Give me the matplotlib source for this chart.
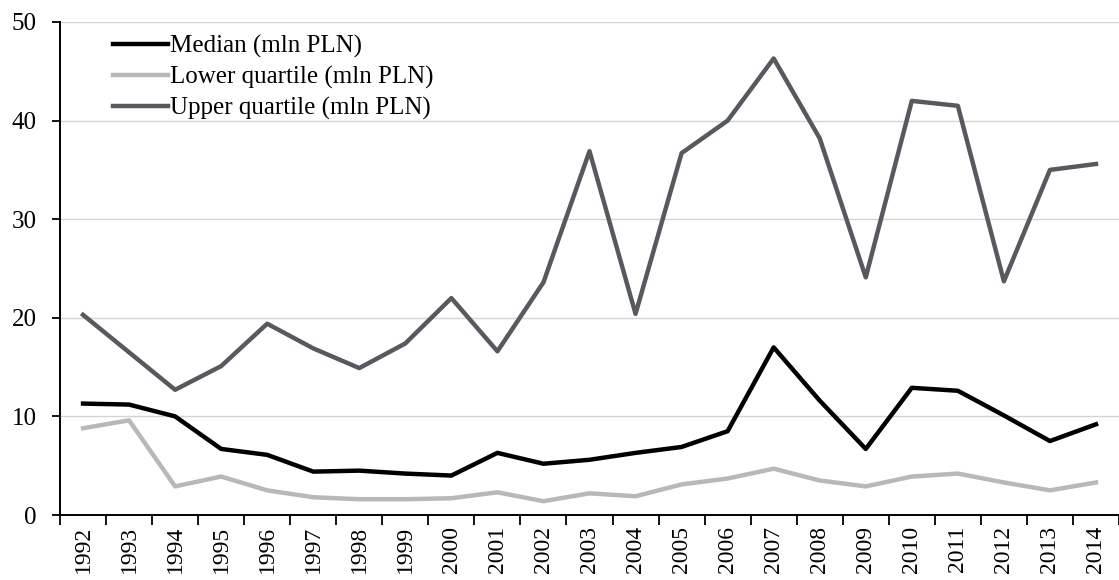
import numpy as np
import matplotlib
matplotlib.use("Agg")
import matplotlib.pyplot as plt

years = [str(y) for y in range(1992, 2015)]

median = [11.3, 11.2, 10.0, 6.7, 6.1, 4.4, 4.5, 4.2, 4.0, 6.3, 5.2, 5.6,
          6.3, 6.9, 8.5, 17.0, 11.6, 6.7, 12.9, 12.6, 10.1, 7.5, 9.2]
lower_q = [8.8, 9.6, 2.9, 3.9, 2.5, 1.8, 1.6, 1.6, 1.7, 2.3, 1.4, 2.2,
           1.9, 3.1, 3.7, 4.7, 3.5, 2.9, 3.9, 4.2, 3.3, 2.5, 3.3]
upper_q = [20.3, 16.5, 12.7, 15.1, 19.4, 16.9, 14.9, 17.4, 22.0, 16.6, 23.6, 36.9,
           20.4, 36.7, 40.0, 46.3, 38.2, 24.1, 42.0, 41.5, 23.7, 35.0, 35.6]

plt.rcParams['font.family'] = ['Liberation Serif', 'DejaVu Serif']

W, H = 1119, 580
fig = plt.figure(figsize=(W / 100, H / 100), dpi=100)
left, bottom, top = 60, 515, 22
ax = fig.add_axes([left / W, 1 - bottom / H, (W - left) / W, (bottom - top) / H])

x = np.arange(len(years))
ax.plot(x, median, color='black', lw=3.2, label='Median (mln PLN)')
ax.plot(x, lower_q, color='#b8b8b8', lw=3.2, label='Lower quartile (mln PLN)')
ax.plot(x, upper_q, color='#565a5e', lw=3.2, label='Upper quartile (mln PLN)')

step = 46.3
ax.set_xlim(-0.5, -0.5 + (W - left) / step)
ax.set_ylim(0, 50)
ax.set_yticks(range(0, 51, 10))
ax.yaxis.grid(True, color='#d4d4d4', lw=1.0)
ax.set_axisbelow(True)

ax.set_xticks(x)
ax.set_xticklabels(years, rotation=90, fontsize=17)
ax.set_xticks(np.arange(-0.5, len(years), 1.0), minor=True)
ax.tick_params(axis='x', which='major', length=0, pad=8)
ax.tick_params(axis='x', which='minor', length=7, width=1.3, direction='out', color='black')
ax.tick_params(axis='y', length=6, width=1.3, direction='out', labelsize=18, pad=11)

for s in ['top', 'right']:
    ax.spines[s].set_visible(False)
for s in ['left', 'bottom']:
    ax.spines[s].set_linewidth(1.4)
    ax.spines[s].set_color('black')

ax.legend(loc='upper left', bbox_to_anchor=(113 / W, 1 - 35 / H),
          bbox_transform=fig.transFigure, frameon=False, fontsize=18,
          handlelength=2.2, handletextpad=0.1, labelspacing=0.32,
          borderpad=0, borderaxespad=0)

fig.savefig('out.png', dpi=100)
